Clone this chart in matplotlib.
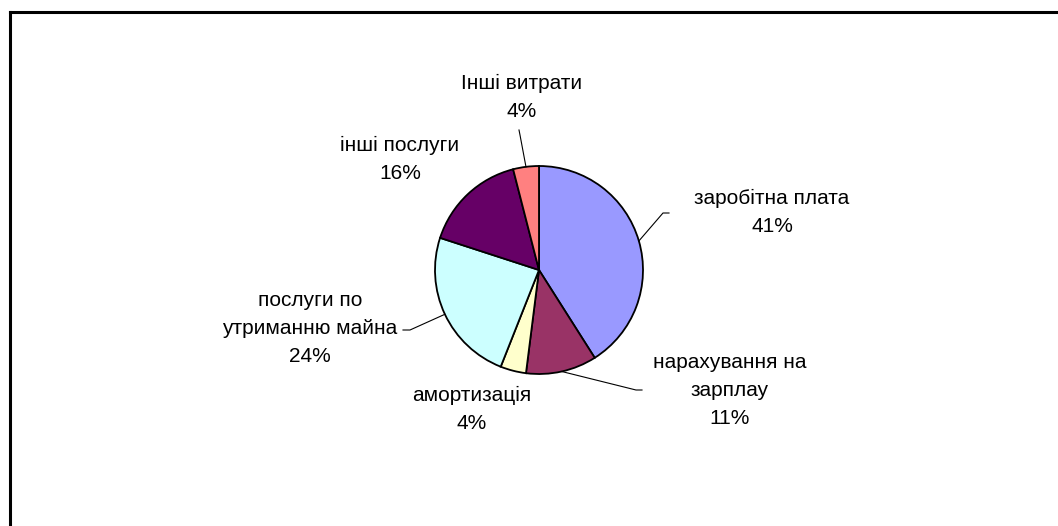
import numpy as np
import matplotlib.pyplot as plt
from matplotlib.lines import Line2D

# data
labels = ["заробітна плата", "нарахування на\nзарплау", "амортизація",
          "послуги по\nутриманню майна", "інші послуги", "Інші витрати"]
shares = [41, 11, 4, 24, 16, 4]
colors = ["#9999FF", "#993366", "#FFFFCC", "#CCFFFF", "#660066", "#FF8080"]

W, H = 1058, 526
fig = plt.figure(figsize=(W / 100, H / 100), dpi=100)
ax = fig.add_axes([0, 0, 1, 1])
ax.set_aspect("equal")

cx, cy, r = 539, H - 270, 104
wedges, _ = ax.pie(shares, colors=colors, startangle=90, counterclock=False,
                   center=(cx, cy), radius=r, frame=True,
                   wedgeprops=dict(edgecolor="black", linewidth=1.3))
ax.set_xlim(0, W)
ax.set_ylim(0, H)
ax.axis("off")

# label layout (pixel coords, y down) and optional leader elbow
layout = [
    dict(xy=(772, 212), elbow=[(663, 213), (669, 213)]),
    dict(xy=(730, 391), elbow=[(636, 390), (642, 390)]),
    dict(xy=(472, 409), elbow=None),
    dict(xy=(310, 329), elbow=[(410, 330), (403, 330)]),
    dict(xy=(400, 159), elbow=None),
    dict(xy=(522, 97), elbow=[(520, 135), (519, 130)]),
]

for w, lab, val, lay in zip(wedges, labels, shares, layout):
    x, y = lay["xy"]
    ax.text(x, H - y, f"{lab}\n{val}%", ha="center", va="center",
            fontsize=15, family="Liberation Sans", linespacing=1.6)
    if lay["elbow"]:
        ang = np.deg2rad((w.theta1 + w.theta2) / 2)
        px, py = cx + r * np.cos(ang), cy + r * np.sin(ang)
        xs = [px] + [p[0] for p in lay["elbow"]]
        ys = [py] + [H - p[1] for p in lay["elbow"]]
        ax.plot(xs, ys, color="black", linewidth=0.8)

# chart frame (cut at right and bottom)
fig.add_artist(Line2D([9.5 / W, 9.5 / W], [0, 1 - 12 / H], color="black",
                      linewidth=2.2, transform=fig.transFigure))
fig.add_artist(Line2D([9.5 / W, 1], [1 - 12 / H, 1 - 12 / H], color="black",
                      linewidth=2.2, transform=fig.transFigure))

fig.savefig("out.png", dpi=100, facecolor="white")
